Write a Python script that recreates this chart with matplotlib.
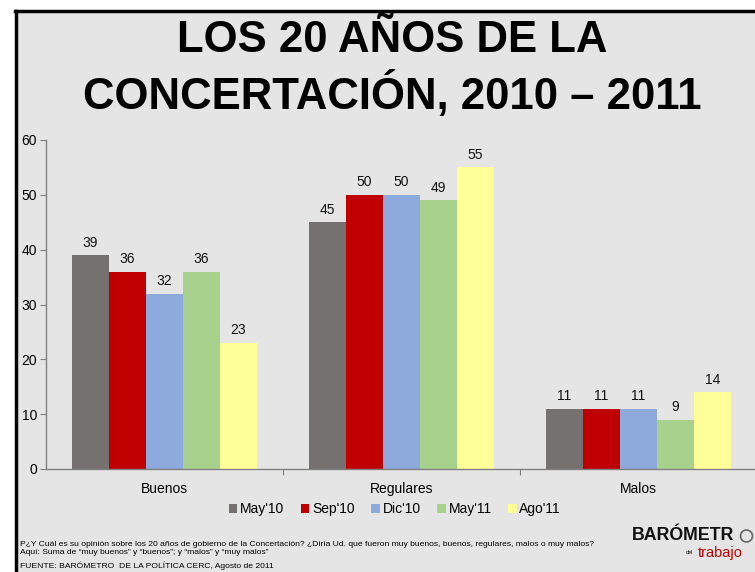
import matplotlib
matplotlib.use("Agg")
import matplotlib.pyplot as plt
from matplotlib import font_manager
from matplotlib.patches import Rectangle, Ellipse
from matplotlib.lines import Line2D
import numpy as np

categories = ["Buenos", "Regulares", "Malos"]
series_names = ["May'10", "Sep'10", "Dic'10", "May'11", "Ago'11"]
values = {
    "May'10": [39, 45, 11],
    "Sep'10": [36, 50, 11],
    "Dic'10": [32, 50, 11],
    "May'11": [36, 49, 9],
    "Ago'11": [23, 55, 14],
}
colors = ["#767171", "#C00000", "#8EA9DB", "#A9D18E", "#FFFF99"]
yticks = [0, 10, 20, 30, 40, 50, 60]

W, H = 755, 572
fig = plt.figure(figsize=(W / 100, H / 100), dpi=100)
fig.patch.set_facecolor("white")

# pick a narrow heading face when one is installed
installed = {f.name for f in font_manager.fontManager.ttflist}
if "Liberation Sans Narrow" in installed:
    head_font, head_size, logo_size = "Liberation Sans Narrow", 37, 16
else:
    head_font, head_size, logo_size = "Liberation Sans", 31.5, 12.8

# slide background and frame
bg = Rectangle((16 / W, 0), 1 - 16 / W, 1 - 11 / H, transform=fig.transFigure,
               facecolor="#e5e5e5", edgecolor="none", zorder=-5)
fig.patches.append(bg)
fig.lines.append(Line2D([15 / W, 1], [1 - 11 / H, 1 - 11 / H], transform=fig.transFigure,
                        color="black", lw=2.5, zorder=-4))
fig.lines.append(Line2D([16 / W, 16 / W], [0, 1 - 11 / H], transform=fig.transFigure,
                        color="black", lw=2.5, zorder=-4))

fig.text(392 / W, 1 - 40 / H, "LOS 20 AÑOS DE LA", ha="center", va="center",
         fontsize=head_size, fontweight="bold", family=head_font)
fig.text(392 / W, 1 - 95 / H, "CONCERTACIÓN, 2010 – 2011", ha="center", va="center",
         fontsize=head_size, fontweight="bold", family=head_font)

ax = fig.add_axes([46 / W, 103 / H, (757 - 46) / W, (469 - 140) / H], zorder=2)
ax.patch.set_alpha(0)

x = np.arange(len(categories))
bw = 0.156
n = len(series_names)
for i, (name, col) in enumerate(zip(series_names, colors)):
    offs = (i - (n - 1) / 2) * bw
    vals = values[name]
    bars = ax.bar(x + offs, vals, width=bw, color=col, edgecolor="none", label=name, zorder=2)
    for b, v in zip(bars, vals):
        ax.text(b.get_x() + b.get_width() / 2, v + 1.0, f"{v}", ha="center", va="bottom",
                fontsize=10, family="Liberation Sans", color="#111111")

ax.set_xlim(-0.5, 2.5)
ax.set_ylim(0, 60)
ax.set_yticks(yticks)
ax.set_yticklabels([str(t) for t in yticks], fontsize=10, family="Liberation Sans")
ax.set_xticks([0.5, 1.5])
ax.set_xticklabels([])
ax.tick_params(axis="x", length=4, color="#808080", direction="out")
ax.tick_params(axis="y", length=4, color="#808080", direction="out", pad=2.5)
for i, c in enumerate(categories):
    ax.text(i, -2.3, c, ha="center", va="top", fontsize=10, family="Liberation Sans")
for s in ["top", "right"]:
    ax.spines[s].set_visible(False)
for s in ["left", "bottom"]:
    ax.spines[s].set_color("#808080")
    ax.spines[s].set_linewidth(1)

leg = fig.legend(loc="center", bbox_to_anchor=(395 / W, 1 - 509 / H), ncol=5, frameon=False,
                 prop={"family": "Liberation Sans", "size": 10}, handlelength=0.6,
                 handleheight=0.6, handletextpad=0.2, columnspacing=1.2)

foot_font = "Liberation Sans"
fig.text(20 / W, 1 - 544 / H,
         "P¿Y Cuál es su opinión sobre los 20 años de gobierno de la Concertación? ¿Diría Ud. que fueron muy buenos, buenos, regulares, malos o muy malos?",
         ha="left", va="center", fontsize=6.1, family=foot_font)
fig.text(20 / W, 1 - 553 / H,
         "Aquí: Suma de \u201cmuy buenos\u201d y \u201cbuenos\u201d; y \u201cmalos\u201d y \u201cmuy malos\u201d",
         ha="left", va="center", fontsize=6.1, family=foot_font)
fig.text(20 / W, 1 - 566 / H, "FUENTE: BARÓMETRO  DE LA POLÍTICA CERC, Agosto de 2011",
         ha="left", va="center", fontsize=6.1, family=foot_font)

# logo
fig.text(632 / W, 1 - 535 / H, "BARÓMETR", ha="left", va="center", fontsize=logo_size,
         fontweight="bold", family=head_font, color="#111111")
gauge = Ellipse((746.5 / W, 1 - 536 / H), 12 / W, 12 / H, transform=fig.transFigure,
                fill=False, edgecolor="#666666", lw=1.2)
fig.patches.append(gauge)
fig.text(686 / W, 1 - 553 / H, "del", ha="left", va="center", fontsize=4, family=foot_font)
fig.text(698 / W, 1 - 553 / H, "trabajo", ha="left", va="center", fontsize=10.5,
         family=head_font, color="#C00000")

fig.savefig("out.png", dpi=100, facecolor=fig.get_facecolor())
